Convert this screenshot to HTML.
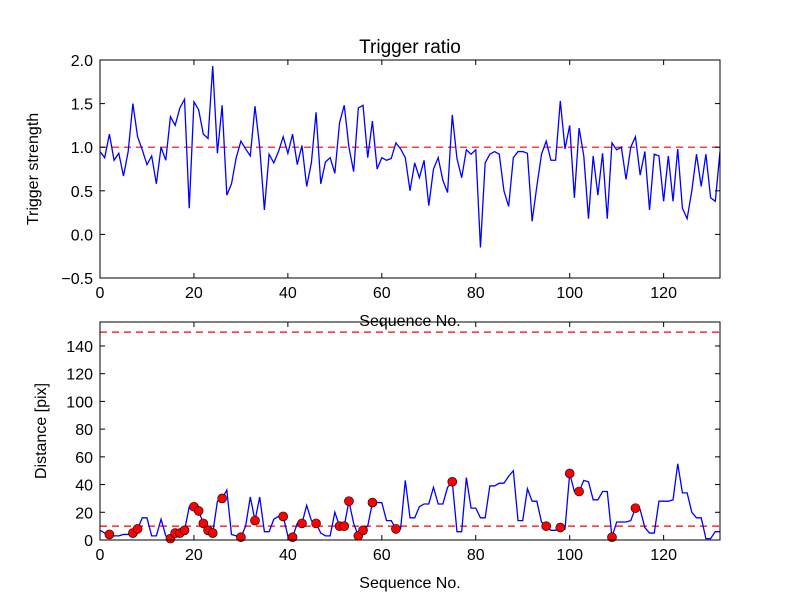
<!DOCTYPE html>
<html><head><meta charset="utf-8"><style>
html,body{margin:0;padding:0;background:#fff;}
svg text{font-family:"Liberation Sans",sans-serif;fill:#000;}
</style></head><body>
<svg id="chart" width="800" height="600" viewBox="0 0 800 600" xmlns="http://www.w3.org/2000/svg">
<rect width="800" height="600" fill="#fff"/>
</svg>
<script>
const ratioValues = [0.95,0.88,1.15,0.85,0.93,0.67,0.95,1.5,1.12,0.97,0.8,0.9,0.58,1.0,0.85,1.35,1.25,1.45,1.55,0.3,1.52,1.43,1.15,1.1,1.93,0.93,1.48,0.45,0.58,0.88,1.07,0.98,0.9,1.47,1.0,0.28,0.92,0.82,0.95,1.12,0.93,1.15,0.8,1.02,0.55,0.82,1.4,0.58,0.83,0.88,0.7,1.28,1.48,1.0,0.72,1.45,1.48,0.88,1.3,0.75,0.88,0.85,0.87,1.05,0.98,0.88,0.5,0.82,0.65,0.85,0.33,0.75,0.88,0.62,0.48,1.37,0.87,0.65,0.97,0.92,0.97,-0.15,0.82,0.92,0.95,0.92,0.5,0.32,0.88,0.95,0.95,0.93,0.15,0.55,0.92,1.07,0.85,0.85,1.53,0.98,1.25,0.42,1.22,0.9,0.18,0.9,0.45,0.93,0.18,1.05,0.97,1.0,0.63,1.0,1.12,0.68,0.95,0.28,0.92,0.9,0.38,0.9,0.38,0.98,0.3,0.18,0.5,0.92,0.55,0.92,0.42,0.38,0.95];
const distValues = [7,5,4,3,3,4,4,5,8,16,16,3,3,15,3,1,5,5,7,24,24,21,12,7,5,28,30,36,4,3,2,10,31,14,31,6,6,15,17,17,3,2,12,12,25,14,12,5,3,3,20,10,10,28,12,3,7,10,27,27,27,14,14,8,8,43,16,16,24,26,26,38,26,26,38,42,6,6,45,23,23,16,16,39,39,41,41,46,50,14,14,37,28,28,13,10,7,7,9,8,48,35,35,43,42,29,29,35,35,2,13,13,13,14,23,22,9,5,5,28,28,28,29,55,34,34,20,16,16,1,1,6,6];
const markerIdx = [2,7,8,15,16,17,18,20,21,22,23,24,26,30,33,39,41,43,46,51,52,53,55,56,58,63,75,95,98,100,102,109,114];
const xTicks = [0,20,40,60,80,100,120];
const ratioTicks = [-0.5,0.0,0.5,1.0,1.5,2.0];
const distTicks = [0,20,40,60,80,100,120,140];
const ratioThreshold = [1.0];
const distThresholds = [10,150];

const NS="http://www.w3.org/2000/svg";
const svg=document.getElementById('chart');
function mk(tag,attrs,parent){const e=document.createElementNS(NS,tag);for(const k in attrs)e.setAttribute(k,attrs[k]);(parent||svg).appendChild(e);return e;}
const L=100,R=720,XMAX=132;
const sx=v=>L+(v/XMAX)*(R-L);
function axes(top,bot,ymin,ymax,yticks,fmt,name,ylabel,ylx){
  const sy=v=>bot-(v-ymin)/(ymax-ymin)*(bot-top);
  const g=mk('g',{});
  
  
  return {g,sy,top,bot,draw(){
    const fr=mk('rect',{x:L,y:top,width:R-L,height:bot-top,fill:'none',stroke:'#000','stroke-width':1},g);
    
    
    xTicks.forEach(t=>{const x=sx(t);
      mk('line',{x1:x,y1:bot,x2:x,y2:bot-5,stroke:'#000'},g);
      mk('line',{x1:x,y1:top,x2:x,y2:top+5,stroke:'#000'},g);
      const tx=mk('text',{x:x,y:bot+20,'text-anchor':'middle','font-size':16},g);tx.textContent=t;
      
      });
    yticks.forEach(t=>{const y=sy(t);
      mk('line',{x1:L,y1:y,x2:L+5,y2:y,stroke:'#000'},g);
      mk('line',{x1:R,y1:y,x2:R-5,y2:y,stroke:'#000'},g);
      const tx=mk('text',{x:L-7,y:y+6,'text-anchor':'end','font-size':16},g);tx.textContent=fmt(t);
      
      });
    const xl=mk('text',{x:(L+R)/2,y:bot+48,'text-anchor':'middle','font-size':16},g);xl.textContent='Sequence No.';
    
    
    const cy=(top+bot)/2;
    const yl=mk('text',{x:ylx,y:cy,'text-anchor':'middle','font-size':16,transform:`rotate(-90 ${ylx} ${cy})`},g);yl.textContent=ylabel;
    
    
  }};
}
function fmt1(t){return (t<0?'\u22120':'')+ (t<0?Math.abs(t).toFixed(1).slice(1):t.toFixed(1));}
const A=axes(60,278,-0.5,2.0,ratioTicks,fmt1,'trigger-ratio-panel','Trigger strength',38);
ratioThreshold.forEach(v=>{const l=mk('line',{x1:L,x2:R,y1:A.sy(v),y2:A.sy(v),stroke:'#f00','stroke-width':1.2,'stroke-dasharray':'7,5'},A.g);
  
  });
const p1=mk('polyline',{points:ratioValues.map((v,i)=>sx(i)+','+A.sy(v)).join(' '),fill:'none',stroke:'#00f','stroke-width':1.3},A.g);


A.draw();
const t=mk('text',{x:410,y:53,'text-anchor':'middle','font-size':19});t.textContent='Trigger ratio';



const B=axes(322,540,0,157.3,distTicks,v=>String(v),'distance-panel','Distance [pix]',46);
distThresholds.forEach(v=>{const l=mk('line',{x1:L,x2:R,y1:B.sy(v),y2:B.sy(v),stroke:'#f00','stroke-width':1.2,'stroke-dasharray':'7,5'},B.g);
  
  });
const p2=mk('polyline',{points:distValues.map((v,i)=>sx(i)+','+B.sy(v)).join(' '),fill:'none',stroke:'#00f','stroke-width':1.3},B.g);


markerIdx.forEach(i=>{const c=mk('circle',{cx:sx(i),cy:B.sy(distValues[i]),r:4.5,fill:'#f00',stroke:'#000','stroke-width':0.6},B.g);
  
  });
B.draw();
</script>
</body></html>
